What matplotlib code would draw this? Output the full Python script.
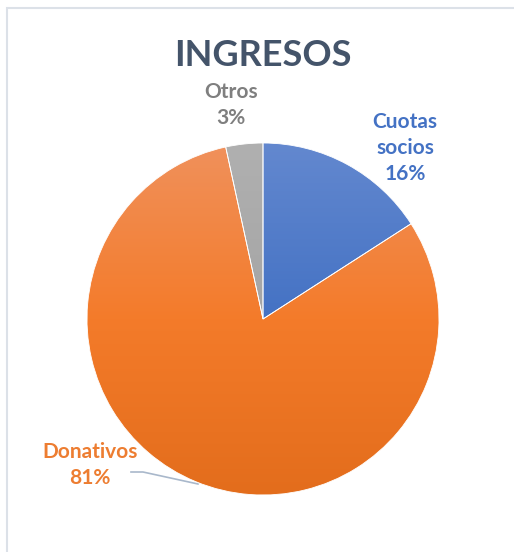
import matplotlib.pyplot as plt
import numpy as np
from matplotlib.colors import LinearSegmentedColormap
from matplotlib.patches import Rectangle

categories = ['Cuotas\nsocios', 'Donativos', 'Otros']
values = [15.9, 80.7, 3.4]
pct_labels = ['16%', '81%', '3%']

# gradient colours (bottom -> top) and label colours
grad = [['#2F5FC3', '#4472C4', '#6388CF'],
        ['#E36D1C', '#F47B2A', '#F0915C'],
        ['#989898', '#A5A5A5', '#B0B0B0']]
label_colors = ['#4472C4', '#ED7D31', '#7F7F7F']

W, H = 514, 552
fig = plt.figure(figsize=(W / 100, H / 100), dpi=100)
ax = fig.add_axes([0, 0, 1, 1])

# chart area border
fig.add_artist(Rectangle((7 / W, -0.1), 1.2, 1 - 8 / H + 0.1, transform=fig.transFigure,
                         fill=False, edgecolor='#DCE1E8', linewidth=1.5))

cx, cy, r = 263, H - 319, 176
wedges, _ = ax.pie(values, startangle=90, counterclock=False, center=(cx, cy), radius=r,
                   wedgeprops=dict(edgecolor='white', linewidth=0.6))
ax.set_xlim(0, W)
ax.set_ylim(0, H)
ax.set_aspect('equal')
ax.axis('off')

for w, cols in zip(wedges, grad):
    cmap = LinearSegmentedColormap.from_list('g', cols)
    img = ax.imshow(np.linspace(0, 1, 256).reshape(-1, 1), cmap=cmap, origin='lower',
                    extent=[cx - r, cx + r, cy - r, cy + r], aspect='auto', zorder=1)
    w.set_facecolor('none')
    w.set_zorder(2)
    img.set_clip_path(w)

font = 'Lato'
ax.text(263, H - 56, 'INGRESOS', ha='center', va='center', fontsize=26,
        fontweight='bold', color='#44546A', family=font)

ax.text(405, H - 148, categories[0] + '\n' + pct_labels[0], ha='center', va='center',
        fontsize=15, fontweight='bold', color=label_colors[0], family=font, linespacing=1.4)
ax.text(90, H - 465, categories[1] + '\n' + pct_labels[1], ha='center', va='center',
        fontsize=15, fontweight='bold', color=label_colors[1], family=font, linespacing=1.4)
ax.text(231, H - 105, categories[2] + '\n' + pct_labels[2], ha='center', va='center',
        fontsize=15, fontweight='bold', color=label_colors[2], family=font, linespacing=1.4)

# leader line for Donativos
ax.plot([131, 143, 198], [H - 472, H - 472, H - 484], color='#A9B8CB', linewidth=1.2, zorder=0.5)

fig.savefig('out.png', dpi=100)
